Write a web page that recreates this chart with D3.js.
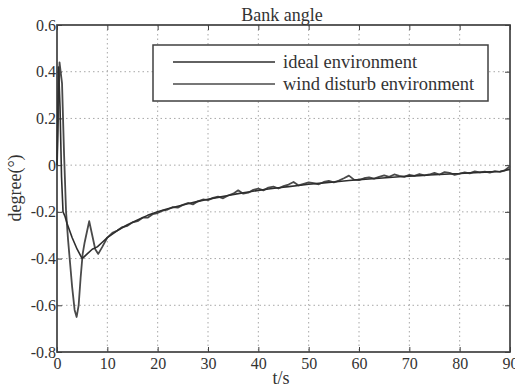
<!DOCTYPE html>
<html>
<head>
<meta charset="utf-8">
<script src="https://cdn.jsdelivr.net/npm/d3@7"></script>
<style>
  html, body { margin: 0; padding: 0; background: #fff; }
  svg { display: block; }
  svg text { font-family: "Liberation Serif", "Times New Roman", Times, "DejaVu Serif", serif; }
</style>
</head>
<body>
<svg id="chart" width="515" height="389"></svg>
<script>
// Bank angle response: time (s) and angle (degree)
const title = "Bank angle";
const xLabel = "t/s";
const yLabel = "degree(°)";
const seriesNames = ["ideal environment", "wind disturb environment"];

const xTicks = [0, 10, 20, 30, 40, 50, 60, 70, 80, 90];
const yTicks = [-0.8, -0.6, -0.4, -0.2, 0, 0.2, 0.4, 0.6];
const yTickLabels = ["-0.8", "-0.6", "-0.4", "-0.2", "0", "0.2", "0.4", "0.6"];

// ideal environment
const idealT = [0, 0.3, 0.6, 0.9, 1.2, 1.6, 2, 3, 4, 5, 6, 7, 8, 9, 10,
  12, 14, 16, 18, 20, 22, 24, 26, 28, 30, 32, 34, 36, 38, 40, 42, 44, 46, 48,
  50, 52, 54, 56, 58, 60, 62, 64, 66, 68, 70, 72, 74, 76, 78, 80, 82, 84, 86, 88, 90];
const idealV = [0, 0.42, 0.25, -0.05, -0.2, -0.22, -0.25, -0.31, -0.36, -0.4, -0.38, -0.36, -0.35, -0.33, -0.31,
  -0.28, -0.255, -0.235, -0.215, -0.2, -0.187, -0.176, -0.165, -0.155, -0.146, -0.138, -0.13, -0.122, -0.115, -0.108, -0.102, -0.097, -0.092, -0.087,
  -0.082, -0.078, -0.074, -0.07, -0.066, -0.062, -0.059, -0.056, -0.053, -0.05, -0.047, -0.045, -0.042, -0.04, -0.038, -0.036, -0.033, -0.031, -0.029, -0.027, -0.018];

// wind disturb environment
const windT = [0, 0.5, 1, 1.4, 1.8, 2.2, 2.6, 3, 3.5, 3.9, 4.3, 4.7, 5.1, 5.5, 6, 6.4, 7, 7.6, 8.2, 9,
  10, 11, 12, 13, 14, 15, 16, 17, 18, 19, 20, 21, 22, 23, 24, 25, 26, 27, 28, 29,
  30, 31, 32, 33, 34, 35, 36, 37, 38, 39, 40, 41, 42, 43, 44, 45, 46, 47, 48, 49,
  50, 51, 52, 53, 54, 55, 56, 57, 58, 59, 60, 61, 62, 63, 64, 65, 66, 67, 68, 69,
  70, 71, 72, 73, 74, 75, 76, 77, 78, 79, 80, 81, 82, 83, 84, 85, 86, 87, 88, 89, 90];
const windV = [0, 0.44, 0.35, 0.05, -0.2, -0.32, -0.42, -0.52, -0.62, -0.65, -0.6, -0.48, -0.38, -0.33, -0.28, -0.24, -0.3, -0.36, -0.38, -0.35,
  -0.31, -0.29, -0.28, -0.265, -0.26, -0.245, -0.24, -0.225, -0.225, -0.21, -0.205, -0.195, -0.19, -0.18, -0.182, -0.17, -0.162, -0.168, -0.155, -0.147,
  -0.15, -0.14, -0.135, -0.142, -0.13, -0.122, -0.108, -0.122, -0.118, -0.106, -0.1, -0.108, -0.096, -0.092, -0.1, -0.09, -0.083, -0.072, -0.087, -0.08,
  -0.074, -0.077, -0.082, -0.072, -0.067, -0.074, -0.066, -0.056, -0.045, -0.062, -0.064, -0.056, -0.052, -0.058, -0.05, -0.044, -0.05, -0.04, -0.046, -0.05,
  -0.042, -0.046, -0.038, -0.044, -0.04, -0.033, -0.04, -0.03, -0.033, -0.042, -0.036, -0.031, -0.035, -0.027, -0.031, -0.028, -0.032, -0.026, -0.029, -0.022, -0.005];

const svg = d3.select("#chart");
const plot = { left: 57, right: 510, top: 25, bottom: 352 };

const x = d3.scaleLinear().domain([0, 90]).range([plot.left, plot.right]);
const y = d3.scaleLinear().domain([-0.8, 0.6]).range([plot.bottom, plot.top]);

const textColor = "#333";
const axisColor = "#404040";

// dotted grid
const grid = svg.append("g");
grid.selectAll("line.gx").data(xTicks.slice(1, -1)).join("line")
  .attr("x1", d => x(d)).attr("x2", d => x(d))
  .attr("y1", plot.top).attr("y2", plot.bottom)
  .attr("stroke", "#a8a8a8").attr("stroke-width", 1).attr("stroke-dasharray", "1.5,3");
grid.selectAll("line.gy").data(yTicks.slice(1, -1)).join("line")
  .attr("y1", d => y(d)).attr("y2", d => y(d))
  .attr("x1", plot.left).attr("x2", plot.right)
  .attr("stroke", "#a8a8a8").attr("stroke-width", 1).attr("stroke-dasharray", "1.5,3");

// axes with inward ticks on all four sides
const axB = svg.append("g").attr("transform", `translate(0,${plot.bottom})`)
  .call(d3.axisBottom(x).tickValues(xTicks).tickSize(-5).tickPadding(6).tickFormat(d3.format("d")));
const axT = svg.append("g").attr("transform", `translate(0,${plot.top})`)
  .call(d3.axisTop(x).tickValues(xTicks).tickSize(-5).tickFormat(""));
const axL = svg.append("g").attr("transform", `translate(${plot.left},0)`)
  .call(d3.axisLeft(y).tickValues(yTicks).tickSize(-5).tickPadding(1)
    .tickFormat((d, i) => yTickLabels[i]));
const axR = svg.append("g").attr("transform", `translate(${plot.right},0)`)
  .call(d3.axisRight(y).tickValues(yTicks).tickSize(-5).tickFormat(""));

[axB, axT, axL, axR].forEach(g => {
  // drop the axis defaults so the serif rule applies
  g.attr("font-family", null).attr("font-size", null);
  g.select(".domain").remove();
  g.selectAll(".tick line").attr("stroke", axisColor).attr("stroke-width", 1);
  g.selectAll(".tick text").attr("fill", textColor).attr("font-size", 16);
});

// frame
svg.append("rect")
  .attr("x", plot.left).attr("y", plot.top)
  .attr("width", plot.right - plot.left).attr("height", plot.bottom - plot.top)
  .attr("fill", "none").attr("stroke", axisColor).attr("stroke-width", 1.7);

// curves
const line = d3.line().x(d => x(d[0])).y(d => y(d[1]));
const idealData = d3.zip(idealT, idealV);
const windData = d3.zip(windT, windV);

svg.append("path").datum(windData)
  .attr("d", line).attr("fill", "none")
  .attr("stroke", "#4a4a4a").attr("stroke-width", 1.8).attr("stroke-linejoin", "round");
svg.append("path").datum(idealData)
  .attr("d", line).attr("fill", "none")
  .attr("stroke", "#2e2e2e").attr("stroke-width", 1.6).attr("stroke-linejoin", "round");

// legend
const lg = svg.append("g");
lg.append("rect").attr("x", 153).attr("y", 45).attr("width", 335).attr("height", 56)
  .attr("fill", "#fff").attr("stroke", axisColor).attr("stroke-width", 1.5);
const legendColors = ["#2e2e2e", "#4a4a4a"];
seriesNames.forEach((name, i) => {
  const yy = 62 + i * 22;
  lg.append("line").attr("x1", 173).attr("x2", 275).attr("y1", yy).attr("y2", yy)
    .attr("stroke", legendColors[i]).attr("stroke-width", 1.7);
  lg.append("text").attr("x", 283).attr("y", yy).attr("dy", "0.3em")
    .attr("fill", textColor).attr("font-size", 18.5).text(name);
});

// title and axis labels
svg.append("text").attr("x", 282).attr("y", 21).attr("text-anchor", "middle")
  .attr("fill", textColor).attr("font-size", 18).text(title);
svg.append("text").attr("x", 281).attr("y", 384).attr("text-anchor", "middle")
  .attr("fill", textColor).attr("font-size", 18).text(xLabel);
svg.append("text").attr("transform", "translate(21,188) rotate(-90)")
  .attr("text-anchor", "middle").attr("fill", textColor)
  .attr("font-size", 18).text(yLabel);
</script>
</body>
</html>
